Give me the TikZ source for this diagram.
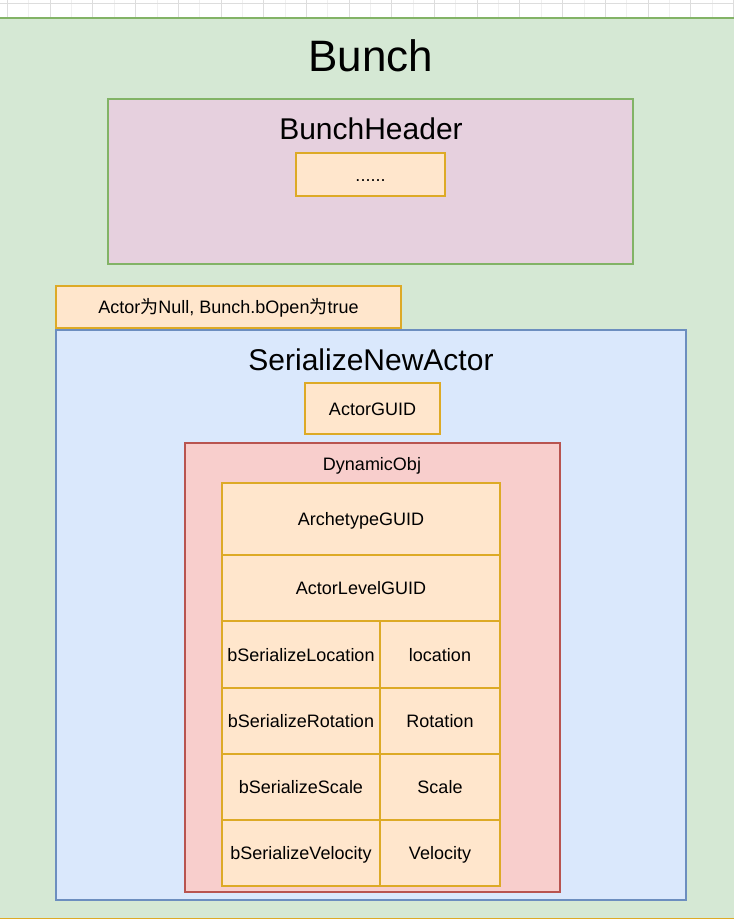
\documentclass[tikz,border=0pt]{standalone}
\usepackage{fontspec}
\setmainfont{Liberation Sans}
\newfontfamily\cjk{Noto Sans CJK SC}
\definecolor{gfill}{HTML}{D5E8D4}
\definecolor{gline}{HTML}{82B366}
\definecolor{pfill}{HTML}{E6D0DE}
\definecolor{ofill}{HTML}{FFE6CC}
\definecolor{oline}{HTML}{D79B00}
\definecolor{bfill}{HTML}{DAE8FC}
\definecolor{bline}{HTML}{6C8EBF}
\definecolor{rfill}{HTML}{F8CECC}
\definecolor{rline}{HTML}{B85450}
\definecolor{gridc}{HTML}{DDDDDD}
\definecolor{gridm}{HTML}{F0F0F0}
\tikzset{
  shapebox/.style={rectangle, inner sep=0pt, line width=1.3pt},
  greenbox/.style={shapebox, fill=gfill, draw=gline},
  pinkbox/.style={shapebox, fill=pfill, draw=gline},
  orangebox/.style={shapebox, fill=ofill, draw=oline!85!white, font=\fontsize{18}{20}\selectfont, text height=15pt, text depth=2pt},
  bluebox/.style={shapebox, fill=bfill, draw=bline},
  redbox/.style={shapebox, fill=rfill, draw=rline},
  bigtitle/.style={inner sep=0pt, font=\fontsize{44}{48}\selectfont},
  midtitle/.style={inner sep=0pt, font=\fontsize{30}{34}\selectfont},
  smalltitle/.style={inner sep=0pt, font=\fontsize{18}{20}\selectfont, text height=15pt, text depth=2pt},
}
\begin{document}
\begin{tikzpicture}[x=1pt,y=-1pt]
\useasboundingbox (0,0) rectangle (734,919);
\begin{scope}
\clip (0,0) rectangle (734,919);
% editor grid strip at top
\fill[white] (0,0) rectangle (734,18);
\foreach \i in {0,...,17} {
  \draw[gridm, line width=0.5pt] ({7.3+42.7*\i+21.35},0) -- ({7.3+42.7*\i+21.35},18);
  \draw[gridc, line width=0.6pt] ({7.3+42.7*\i},0) -- ({7.3+42.7*\i},18);
}
\draw[gridc, line width=0.6pt] (0,3.5) -- (734,3.5);
% Bunch
\node[greenbox, minimum width=740pt, minimum height=912pt] (bunch) at (367,474) {};
\draw[oline!85!white, line width=1.5pt] (-2,918.5) -- (736,918.5);
\end{scope}
\node[bigtitle] (bunchT) at (371,56) {Bunch};
% BunchHeader
\node[pinkbox, minimum width=525pt, minimum height=165pt] (header) at (370.5,181.5) {};
\node[midtitle] (headerT) at (371,129) {BunchHeader};
\node[orangebox, minimum width=149pt, minimum height=43pt] (dots) at (370.5,174.5) {......};
% condition
\node[orangebox, minimum width=345pt, minimum height=42pt] (cond) at (228.5,307) {Actor{\cjk 为}Null, Bunch.bOpen{\cjk 为}true};
% SerializeNewActor
\node[bluebox, minimum width=630pt, minimum height=570pt] (sna) at (371,615) {};
\node[midtitle] (snaT) at (371,360) {SerializeNewActor};
\node[orangebox, minimum width=135pt, minimum height=51pt] (guid) at (372.5,408.5) {ActorGUID};
% DynamicObj
\node[redbox, minimum width=375pt, minimum height=449pt] (dyn) at (372.5,667.5) {};
\node[smalltitle] (dynT) at (372,464) {DynamicObj};
% table
\node[orangebox, minimum width=278pt, minimum height=72pt] (arch) at (361,519) {ArchetypeGUID};
\node[orangebox, minimum width=278pt, minimum height=66pt] (lvl) at (361,588) {ActorLevelGUID};
\node[orangebox, minimum width=158pt, minimum height=67pt] (bloc) at (301,654.5) {bSerializeLocation};
\node[orangebox, minimum width=120pt, minimum height=67pt] (loc) at (440,654.5) {location};
\node[orangebox, minimum width=158pt, minimum height=66pt] (brot) at (301,721) {bSerializeRotation};
\node[orangebox, minimum width=120pt, minimum height=66pt] (rot) at (440,721) {Rotation};
\node[orangebox, minimum width=158pt, minimum height=66pt] (bsca) at (301,787) {bSerializeScale};
\node[orangebox, minimum width=120pt, minimum height=66pt] (sca) at (440,787) {Scale};
\node[orangebox, minimum width=158pt, minimum height=66pt] (bvel) at (301,853) {bSerializeVelocity};
\node[orangebox, minimum width=120pt, minimum height=66pt] (vel) at (440,853) {Velocity};
\end{tikzpicture}
\end{document}
